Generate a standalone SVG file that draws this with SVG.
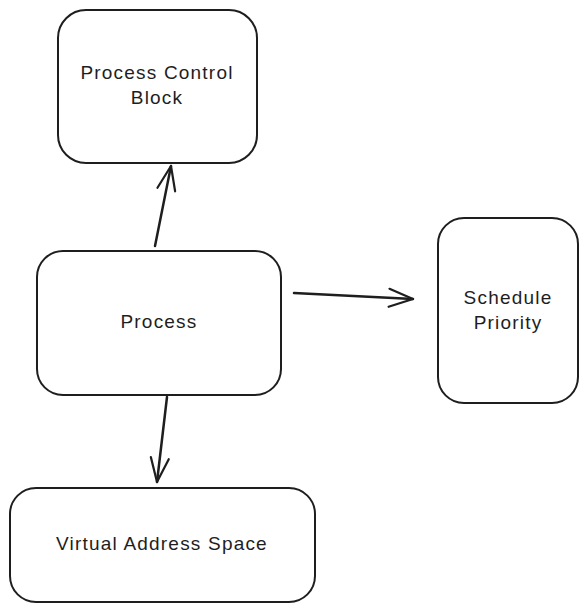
<svg xmlns="http://www.w3.org/2000/svg" width="587" height="610" viewBox="0 0 587 610">
<style>
.box{fill:#fff;stroke:#1e1e1e;stroke-width:2;}
.lbl{font-family:"Liberation Sans",Arial,sans-serif;font-size:19px;letter-spacing:1.2px;fill:#1e1e1e;text-anchor:middle;}
.edge{fill:none;stroke:#1e1e1e;stroke-width:2.5;stroke-linecap:round;}
</style>
<defs>
<marker id="arr" markerUnits="userSpaceOnUse" markerWidth="40" markerHeight="40" refX="0" refY="0" viewBox="-30 -15 40 30" orient="auto">
<path d="M-24,-9 L0,0 L-24,9" fill="none" stroke="#1e1e1e" stroke-width="2.2" stroke-linecap="round" stroke-linejoin="round"/>
</marker>
</defs>
<rect width="587" height="610" fill="#fff"/>
<g id="pcb">
<rect class="box" x="58" y="10" width="199" height="153" rx="28"/>
<text class="lbl" x="157" y="79">Process Control</text>
<text class="lbl" x="157" y="104">Block</text>
</g>
<g id="process">
<rect class="box" x="37" y="251" width="244" height="144" rx="26"/>
<text class="lbl" x="159" y="328">Process</text>
</g>
<g id="schedule">
<rect class="box" x="438" y="218" width="140" height="185" rx="26"/>
<text class="lbl" x="508" y="304">Schedule</text>
<text class="lbl" x="508" y="329">Priority</text>
</g>
<g id="vas">
<rect class="box" x="10" y="488" width="305" height="114" rx="26"/>
<text class="lbl" x="162" y="550">Virtual Address Space</text>
</g>
<g id="connectors">
<path class="edge" d="M155,246 L171,166" marker-end="url(#arr)"/>
<path class="edge" d="M294,293 L413,299" marker-end="url(#arr)"/>
<path class="edge" d="M167,397 L157,482" marker-end="url(#arr)"/>
</g>
</svg>
